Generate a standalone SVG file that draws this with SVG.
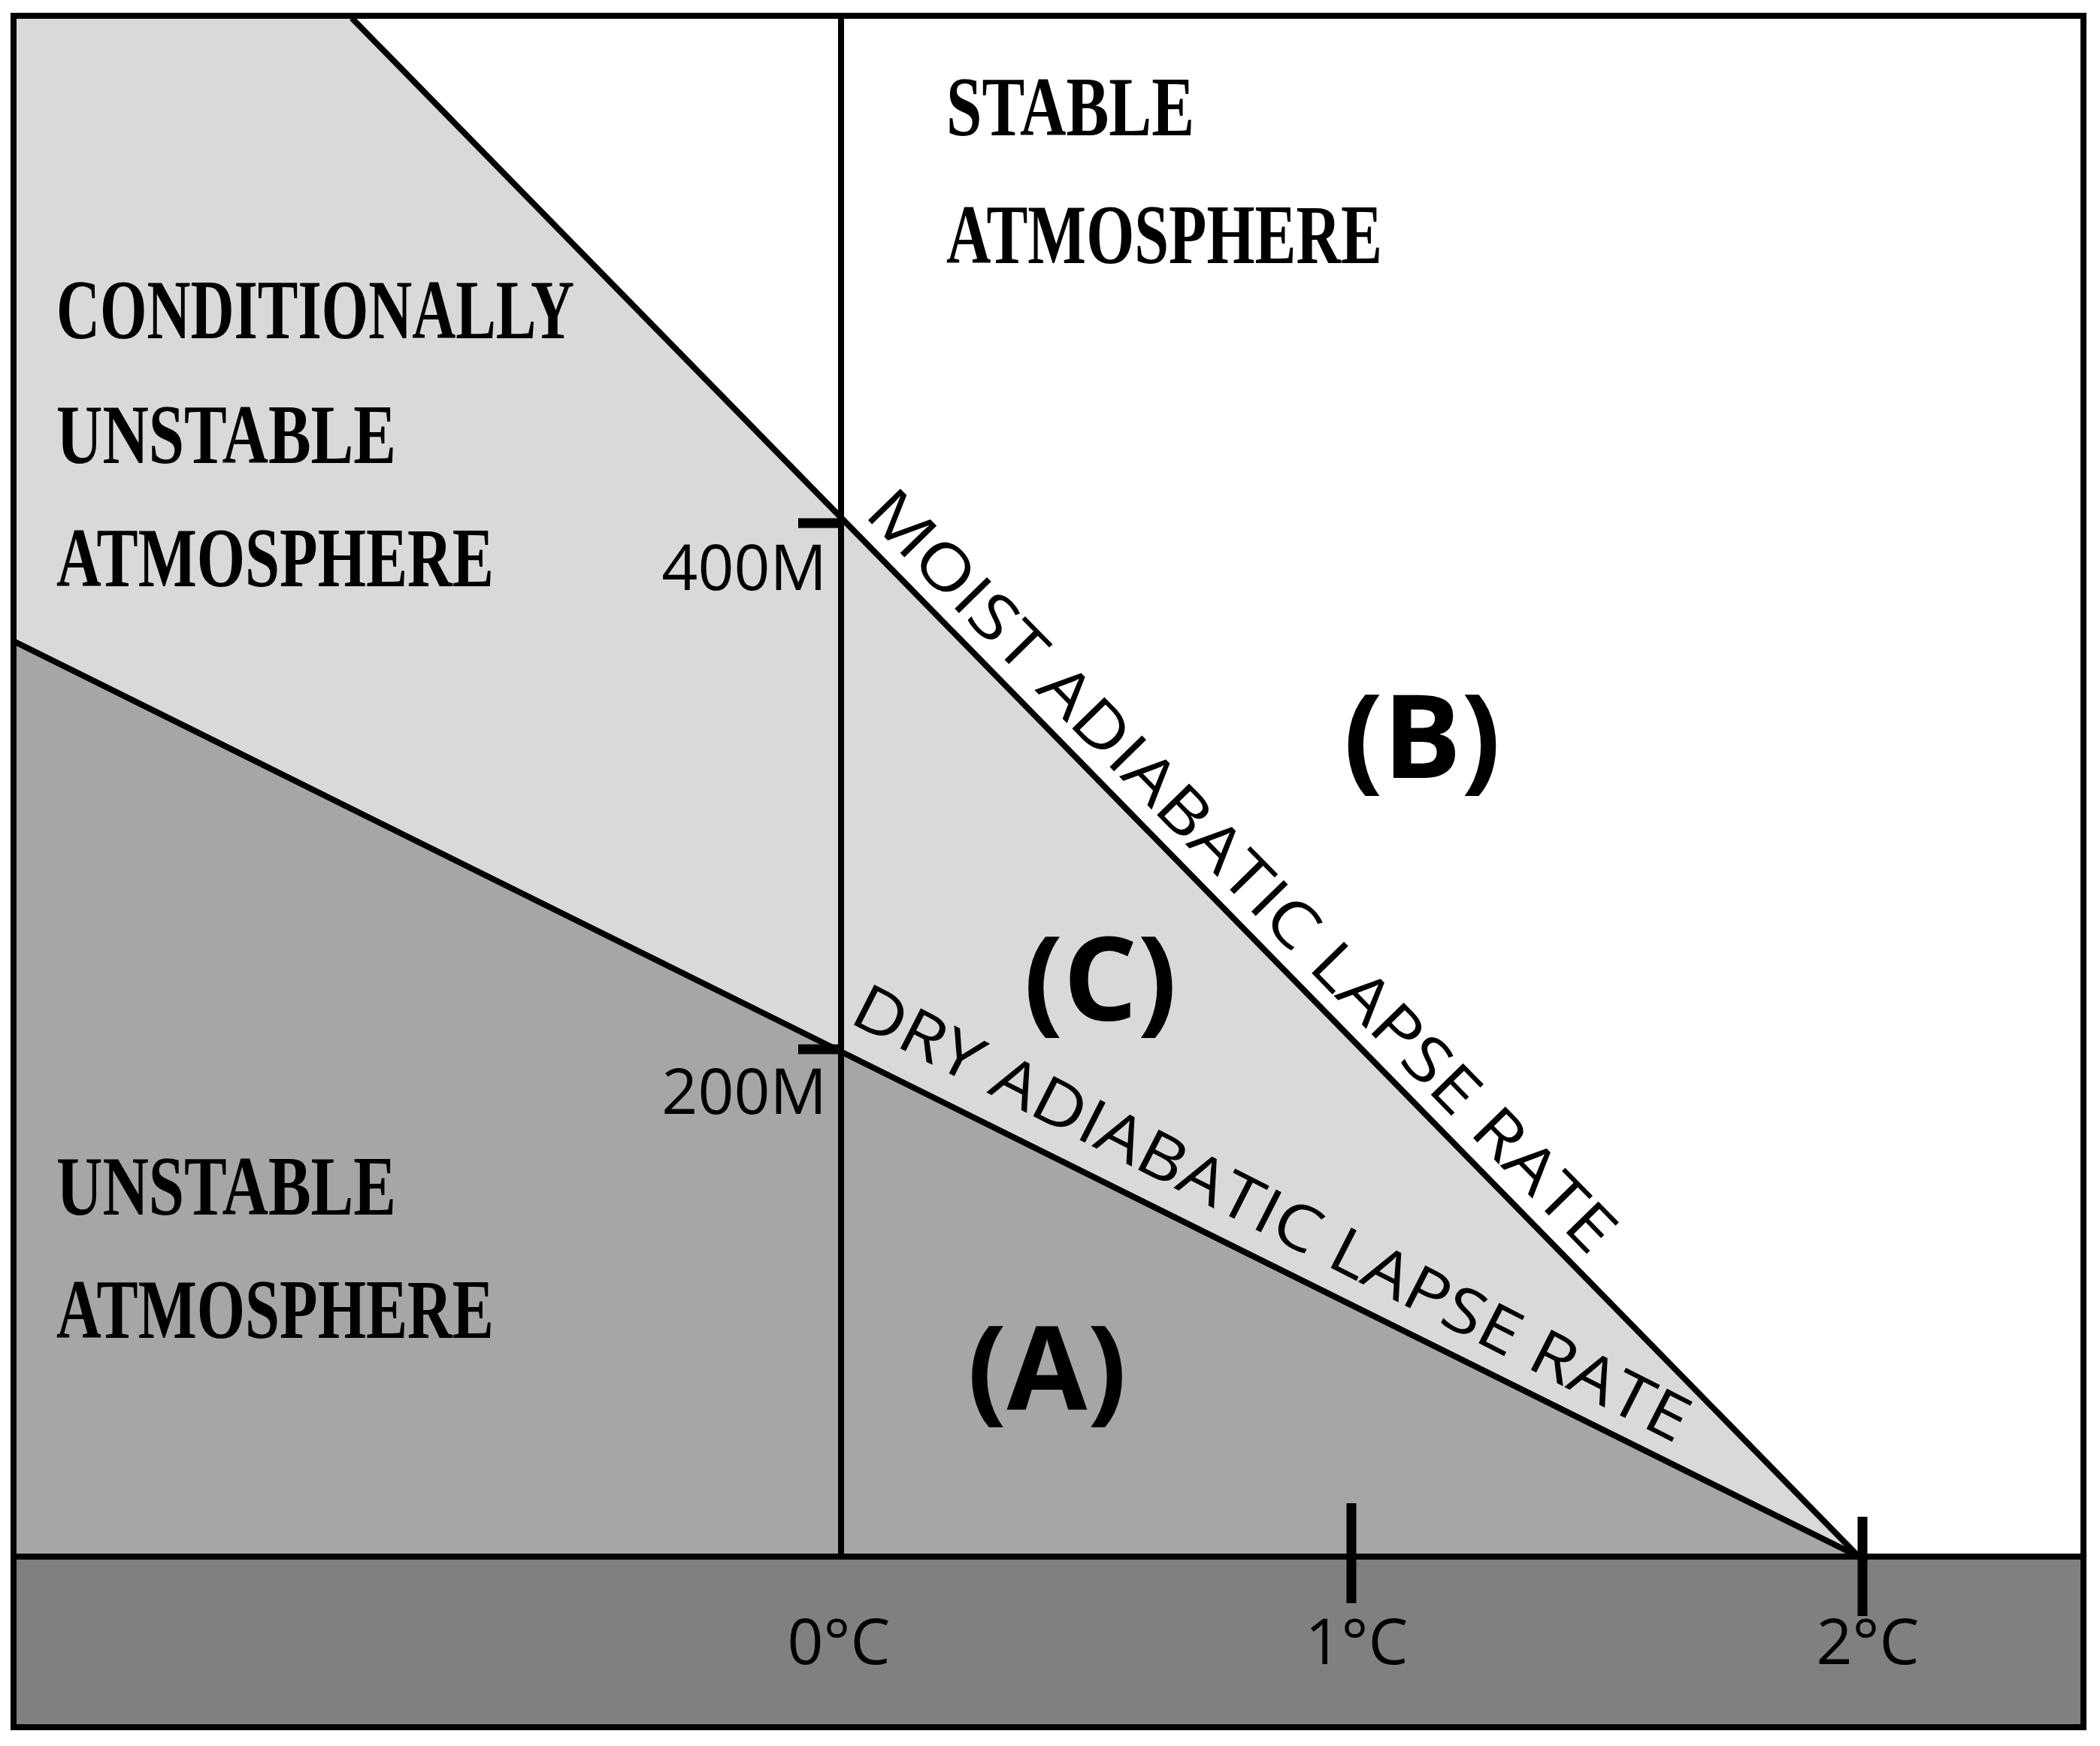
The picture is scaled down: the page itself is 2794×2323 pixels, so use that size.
<svg xmlns="http://www.w3.org/2000/svg" width="2794" height="2323" viewBox="0 0 2794 2323">
<style>
.ln{stroke:#000;stroke-width:8;fill:none}
.tk{stroke:#000;stroke-width:13;fill:none}
.t{font-family:"Liberation Serif",serif;font-weight:bold;font-size:112px;fill:#000}
.s{font-family:"Open Sans","Liberation Sans",sans-serif;font-size:84px;fill:#000}
.b{font-family:"Open Sans","Liberation Sans",sans-serif;font-weight:bold;font-size:155px;fill:#000;text-anchor:middle}
</style>
<rect x="0" y="0" width="2794" height="2323" fill="#fff"/>
<g id="regions">
<polygon points="18,21 468,21 2473,2071 18,2071" fill="#d9d9d9"/>
<polygon points="18,853 2473,2071 18,2071" fill="#a6a6a6"/>
<rect x="18" y="2071" width="2754" height="227" fill="#808080"/>
</g>
<g id="connectors">
<line class="ln" x1="468" y1="24" x2="2473" y2="2071"/>
<line class="ln" x1="18" y1="853" x2="2473" y2="2071"/>
<line class="ln" x1="1119" y1="21" x2="1119" y2="2071"/>
<line class="ln" x1="18" y1="2071" x2="2772" y2="2071"/>
<line class="tk" x1="1062" y1="696" x2="1119" y2="696"/>
<line class="tk" x1="1062" y1="1396" x2="1119" y2="1396"/>
<line class="tk" x1="1798" y1="2000" x2="1798" y2="2133"/>
<line class="tk" x1="2478" y1="2018" x2="2478" y2="2150"/>
<rect class="ln" x="18" y="21" width="2754" height="2277"/>
</g>
<g id="labels">
<text class="t" x="75" y="450" textLength="689" lengthAdjust="spacingAndGlyphs">CONDITIONALLY</text>
<text class="t" x="75" y="616" textLength="452" lengthAdjust="spacingAndGlyphs">UNSTABLE</text>
<text class="t" x="75" y="780" textLength="582" lengthAdjust="spacingAndGlyphs">ATMOSPHERE</text>
<text class="t" x="75" y="1616" textLength="452" lengthAdjust="spacingAndGlyphs">UNSTABLE</text>
<text class="t" x="75" y="1780" textLength="582" lengthAdjust="spacingAndGlyphs">ATMOSPHERE</text>
<text class="t" x="1259" y="180" textLength="330" lengthAdjust="spacingAndGlyphs">STABLE</text>
<text class="t" x="1259" y="350" textLength="580" lengthAdjust="spacingAndGlyphs">ATMOSPHERE</text>
<text class="b" x="1892" y="1035">(B)</text>
<text class="b" x="1464" y="1357">(C)</text>
<text class="b" x="1393" y="1875">(A)</text>
<text class="s" x="1100" y="785" text-anchor="end">400M</text>
<text class="s" x="1100" y="1482" text-anchor="end">200M</text>
<text class="s" x="1116" y="2214" text-anchor="middle">0°C</text>
<text class="s" x="1805" y="2214" text-anchor="middle">1°C</text>
<text class="s" x="2485" y="2214" text-anchor="middle">2°C</text>
<text class="s" transform="translate(1651,1160) rotate(45.6)" x="0" y="27" text-anchor="middle" textLength="1382" lengthAdjust="spacingAndGlyphs">MOIST ADIABATIC LAPSE RATE</text>
<text class="s" transform="translate(1691,1616) rotate(27)" x="0" y="27" text-anchor="middle" textLength="1237" lengthAdjust="spacingAndGlyphs">DRY ADIABATIC LAPSE RATE</text>
</g>
</svg>
